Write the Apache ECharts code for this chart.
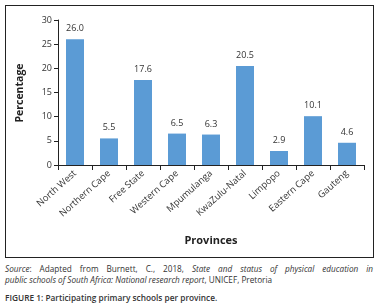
<!DOCTYPE html>
<html>
<head>
<meta charset="utf-8">
<script src="https://cdn.jsdelivr.net/npm/echarts@6/dist/echarts.min.js"></script>
<style>
  html, body { margin: 0; padding: 0; background: #fff; }
  body { width: 382px; height: 308px; position: relative; overflow: hidden; font-family: 'Open Sans', sans-serif; }
  #frame { position: absolute; left: 5px; top: 5px; width: 367px; height: 251px; border: 1px solid #222; }
  #chart { position: absolute; left: 0; top: 0; width: 382px; height: 260px; }
  .src { position: absolute; left: 5px; width: 368px; font-size: 8.2px; line-height: 11px; color: #333; white-space: nowrap; }
  #src1 { top: 263px; text-align: justify; text-align-last: justify; white-space: normal; }
  #src2 { top: 274px; }
  #caption { position: absolute; left: 5px; top: 292px; font-size: 8.3px; color: #333; font-weight: 600; }
</style>
</head>
<body>
<div id="frame"></div>
<div id="chart"></div>
<div class="src" id="src1"><i>Source</i>: Adapted from Burnett, C., 2018, <i>State and status of physical education in</i></div>
<div class="src" id="src2"><i>public schools of South Africa: National research report</i>, UNICEF, Pretoria</div>
<div id="caption">FIGURE 1: Participating primary schools per province.</div>
<script>
const provinces = ['North West', 'Northern Cape', 'Free State', 'Western Cape', 'Mpumulanga',
  'KwaZulu-Natal', 'Limpopo', 'Eastern Cape', 'Gauteng'];
const percentages = [26.0, 5.5, 17.6, 6.5, 6.3, 20.5, 2.9, 10.1, 4.6];
const yTicks = [0, 5, 10, 15, 20, 25, 30];

const chart = echarts.init(document.getElementById('chart'));
const axisColor = '#222';
const font = '"Open Sans", sans-serif';

chart.setOption({
  animation: false,
  grid: { left: 58, right: 18, top: 20, bottom: 95, containLabel: false, outerBoundsMode: 'none' },
  // axis titles drawn as plain text so the grid is not resized around them
  graphic: [
    {
      type: 'text',
      x: 211,
      y: 241,
      style: { text: 'Provinces', align: 'center', verticalAlign: 'middle', font: 'bold 11px "Open Sans", sans-serif', fill: '#222' }
    },
    {
      type: 'text',
      x: 20,
      y: 93,
      rotation: Math.PI / 2,
      style: { text: 'Percentage', align: 'center', verticalAlign: 'middle', font: 'bold 10.5px "Open Sans", sans-serif', fill: '#222' }
    }
  ],
  xAxis: {
    type: 'category',
    data: provinces,
    axisLine: { lineStyle: { color: axisColor, width: 1 } },
    axisTick: { show: true, length: 5, lineStyle: { color: axisColor } },
    axisLabel: { rotate: 42, fontFamily: font, fontSize: 9.3, color: '#333', margin: 7, interval: 0 }
  },
  yAxis: {
    type: 'value',
    min: yTicks[0],
    max: yTicks[yTicks.length - 1],
    interval: 5,
    axisLine: { show: true, lineStyle: { color: axisColor, width: 1 } },
    axisTick: { show: true, length: 4, lineStyle: { color: axisColor } },
    axisLabel: { fontFamily: font, fontSize: 9, color: '#333', margin: 6 },
    splitLine: { show: false }
  },
  series: [{
    type: 'bar',
    data: percentages,
    barWidth: 18,
    itemStyle: { color: '#5b9bd5' },
    label: {
      show: true,
      position: 'top',
      distance: 6,
      fontFamily: font,
      fontSize: 9,
      color: '#333',
      formatter: p => p.value.toFixed(1)
    }
  }]
});
</script>
</body>
</html>
